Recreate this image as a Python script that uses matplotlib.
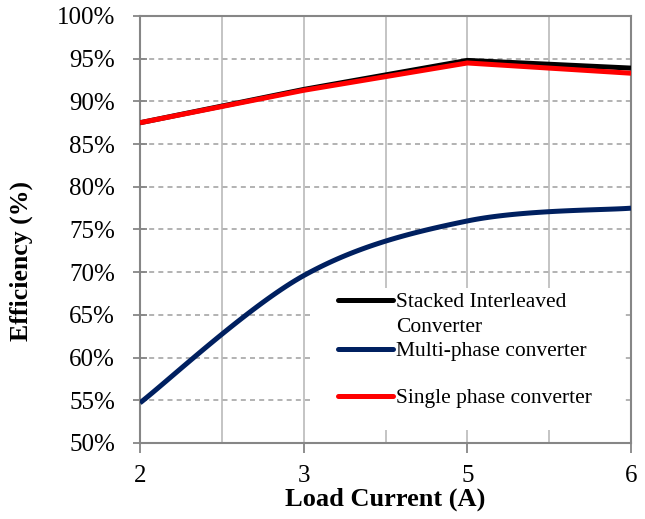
import numpy as np
import matplotlib
matplotlib.use('Agg')
import matplotlib.pyplot as plt
from matplotlib.patches import Rectangle
from matplotlib.ticker import FuncFormatter, MultipleLocator

plt.rcParams['font.family'] = ['Liberation Serif', 'DejaVu Serif']

# load current categories (A) and measured efficiencies (%)
currents = ['2', '3', '5', '6']
stacked = [87.5, 91.4, 94.8, 93.9]
multi_phase = [54.7, 69.6, 76.0, 77.5]
single_phase = [87.5, 91.3, 94.5, 93.3]

names = ['Stacked Interleaved\nConverter', 'Multi-phase converter', 'Single phase converter']
colors = ['#000000', '#002060', '#ff0000']
smoothed = [False, True, False]


def smooth(x, y, n=40):
    # Catmull-Rom style smoothing, like a spreadsheet "smoothed line"
    x = np.asarray(x, float)
    y = np.asarray(y, float)
    px = np.concatenate([[x[0]], x, [x[-1]]])
    py = np.concatenate([[y[0]], y, [y[-1]]])
    xs, ys = [], []
    t = np.linspace(0, 1, n)
    for i in range(1, len(px) - 2):
        p0 = np.array([px[i], py[i]])
        p3 = np.array([px[i + 1], py[i + 1]])
        p1 = p0 + (np.array([px[i + 1], py[i + 1]]) - np.array([px[i - 1], py[i - 1]])) / 6
        p2 = p3 - (np.array([px[i + 2], py[i + 2]]) - np.array([px[i], py[i]])) / 6
        b = ((1 - t) ** 3)[:, None] * p0 + (3 * (1 - t) ** 2 * t)[:, None] * p1 \
            + (3 * (1 - t) * t ** 2)[:, None] * p2 + (t ** 3)[:, None] * p3
        xs.append(b[:, 0])
        ys.append(b[:, 1])
    return np.concatenate(xs), np.concatenate(ys)


fig = plt.figure(figsize=(6.45, 5.19), dpi=100)
ax = fig.add_axes([140 / 645, 1 - 443 / 519, 491 / 645, 427 / 519])

pos = np.arange(len(currents))
for series, color, sm in zip([stacked, multi_phase, single_phase], colors, smoothed):
    if sm:
        sx, sy = smooth(pos, series)
    else:
        sx, sy = pos, series
    ax.plot(sx, sy, color=color, lw=3.6, solid_capstyle='butt', solid_joinstyle='round', zorder=3)

ax.set_xlim(0, len(currents) - 1)
ax.set_ylim(50, 100)
ax.set_xticks(pos)
ax.set_xticklabels(currents)
ax.xaxis.set_minor_locator(MultipleLocator(0.5))
ax.yaxis.set_major_locator(MultipleLocator(5))
ax.yaxis.set_major_formatter(FuncFormatter(lambda v, _: '{:.0f}%'.format(v)))

ax.grid(True, axis='x', which='both', color='#bfbfbf', lw=1.3, zorder=0)
ax.grid(True, axis='y', which='major', color='#a6a6a6', lw=1.2, linestyle=(0, (3, 2.5)), zorder=0)
ax.set_axisbelow(True)

for s in ax.spines.values():
    s.set_color('#868686')
    s.set_linewidth(1.5)

ax.tick_params(axis='y', direction='inout', length=10, width=1.3, color='#868686', labelsize=18, pad=13)
ax.tick_params(axis='x', which='major', direction='out', length=7, width=1.3, color='#868686', labelsize=18, pad=9)
ax.tick_params(axis='x', which='minor', length=0)

ax.set_xlabel('Load Current (A)', fontsize=19, fontweight='bold', labelpad=0)
ax.set_ylabel('Efficiency (%)', fontsize=18.5, fontweight='bold')
ax.yaxis.set_label_coords(-0.218, 0.426)

# legend drawn on a white panel inside the plot area
ax.add_patch(Rectangle((0.350, 0.030), 0.638, 0.333, transform=ax.transAxes,
                       facecolor='white', edgecolor='none', zorder=4))
entry_y = [0.335, 0.220, 0.110]
for name, color, yy in zip(names, colors, entry_y):
    ax.plot([0.403, 0.515], [yy, yy], transform=ax.transAxes, color=color,
            lw=3.6, solid_capstyle='round', zorder=5)
    ax.text(0.522, yy + 0.017, name, transform=ax.transAxes, fontsize=15.5,
            va='top', ha='left', linespacing=1.42, zorder=5)

fig.savefig('out.png', dpi=100)
